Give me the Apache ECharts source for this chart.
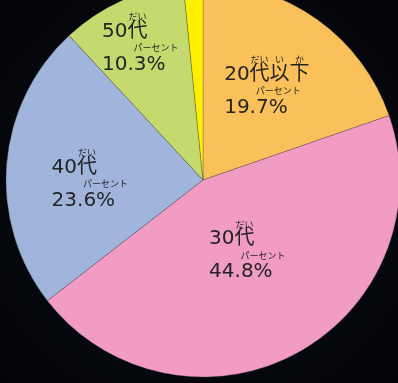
<!DOCTYPE html>
<html lang="ja">
<head>
<meta charset="utf-8">
<title>年代別構成比</title>
<script src="https://cdn.jsdelivr.net/npm/echarts@6/dist/echarts.min.js"></script>
<style>
  html, body { margin: 0; padding: 0; background: #000; }
  #chart { width: 398px; height: 383px; }
</style>
</head>
<body>
<div id="chart"></div>
<script>
// Age groups (clockwise from 12 o'clock) and their shares in percent
const ageGroups = ['20代以下', '30代', '40代', '50代', 'その他'];
const shares = [19.7, 44.8, 23.6, 10.3, 1.6];
const sliceColors = ['#fac05a', '#f29cc4', '#a0b4dc', '#c5da6e', '#fff000'];
// Furigana shown above each group name (null = no label)
const nameRuby = [['だい', 'い', 'か'], ['だい'], ['だい'], ['だい'], null];
const pctRuby = 'パーセント';
// Fine shift of each label from its slice's inside anchor [dx, dy]
const labelShift = [[5, -11], [-4, -18], [-12, 8], [-21, -44], [0, 0]];

const MAIN = 20;     // main text size
const RUBY = 9;      // furigana size above names
const PCT_RUBY = 9;  // furigana size above %
const MAIN_WEIGHT = 'normal';
const RUBY_WEIGHT = 'normal';

const fontFamily = '"DejaVu Sans", "Noto Sans CJK JP", sans-serif';
const rubyFamily = '"Noto Sans CJK JP", sans-serif';
const textColor = '#242424';

// measure text advance so furigana can sit centred over its characters
const measureCtx = document.createElement('canvas').getContext('2d');
function textW(str, size, weight, family) {
  measureCtx.font = weight + ' ' + size + 'px ' + family;
  return measureCtx.measureText(str).width;
}

function buildLabel(i) {
  const ruby = nameRuby[i];
  if (!ruby) return { show: false };
  const name = ageGroups[i];
  const pct = shares[i].toFixed(1) + '%';
  const mainStyle = { color: textColor, fontFamily, fontWeight: MAIN_WEIGHT, align: 'left', fontSize: MAIN };
  const rubyStyle = { color: textColor, fontFamily: rubyFamily, fontWeight: RUBY_WEIGHT, align: 'left' };
  const mw = (s) => textW(s, MAIN, MAIN_WEIGHT, fontFamily);
  const pctLeft = mw(pct.slice(0, -1)) + mw('%') / 2 -
    textW(pctRuby, PCT_RUBY, RUBY_WEIGHT, rubyFamily) / 2;
  const rich = {
    m1: Object.assign({ lineHeight: 20 }, mainStyle),
    m2: Object.assign({ lineHeight: 22 }, mainStyle),
    p: Object.assign({ fontSize: PCT_RUBY, lineHeight: 12, padding: [0, 0, 0, pctLeft] }, rubyStyle)
  };
  // furigana k sits over the kanji that follow the two leading digits
  let cursor = 0;
  let rubyLine = '';
  ruby.forEach((txt, k) => {
    const before = mw(name.slice(0, 2 + k));
    const charW = mw(name.charAt(2 + k));
    const w = textW(txt, RUBY, RUBY_WEIGHT, rubyFamily);
    const left = before + charW / 2 - w / 2;
    rich['r' + k] = Object.assign({
      fontSize: RUBY, lineHeight: 10, padding: [0, 0, 0, Math.max(0, left - cursor)]
    }, rubyStyle);
    cursor = left + w;
    rubyLine += '{r' + k + '|' + txt + '}';
  });
  const text = rubyLine + '\n{m1|' + name + '}\n{p|' + pctRuby + '}\n{m2|' + pct + '}';
  return { show: true, position: 'inside', formatter: () => text, rich };
}

const chart = echarts.init(document.getElementById('chart'), null, { renderer: 'canvas' });
chart.setOption({
  animation: false,
  backgroundColor: {
    type: 'radial', x: 0.5, y: 0.5, r: 0.75,
    colorStops: [
      { offset: 0, color: '#0b101b' },
      { offset: 1, color: '#020306' }
    ]
  },
  series: [{
    type: 'pie',
    center: [203, 180],
    radius: [0, 197],
    startAngle: 90,
    clockwise: true,
    avoidLabelOverlap: false,
    labelLine: { show: false },
    itemStyle: { borderColor: 'rgba(70,70,70,0.55)', borderWidth: 0.6 },
    emphasis: { disabled: true },
    labelLayout: (p) => ({ dx: labelShift[p.dataIndex][0], dy: labelShift[p.dataIndex][1] }),
    data: ageGroups.map((name, i) => ({
      name,
      value: shares[i],
      itemStyle: { color: sliceColors[i] },
      label: buildLabel(i)
    }))
  }]
});
</script>
</body>
</html>
